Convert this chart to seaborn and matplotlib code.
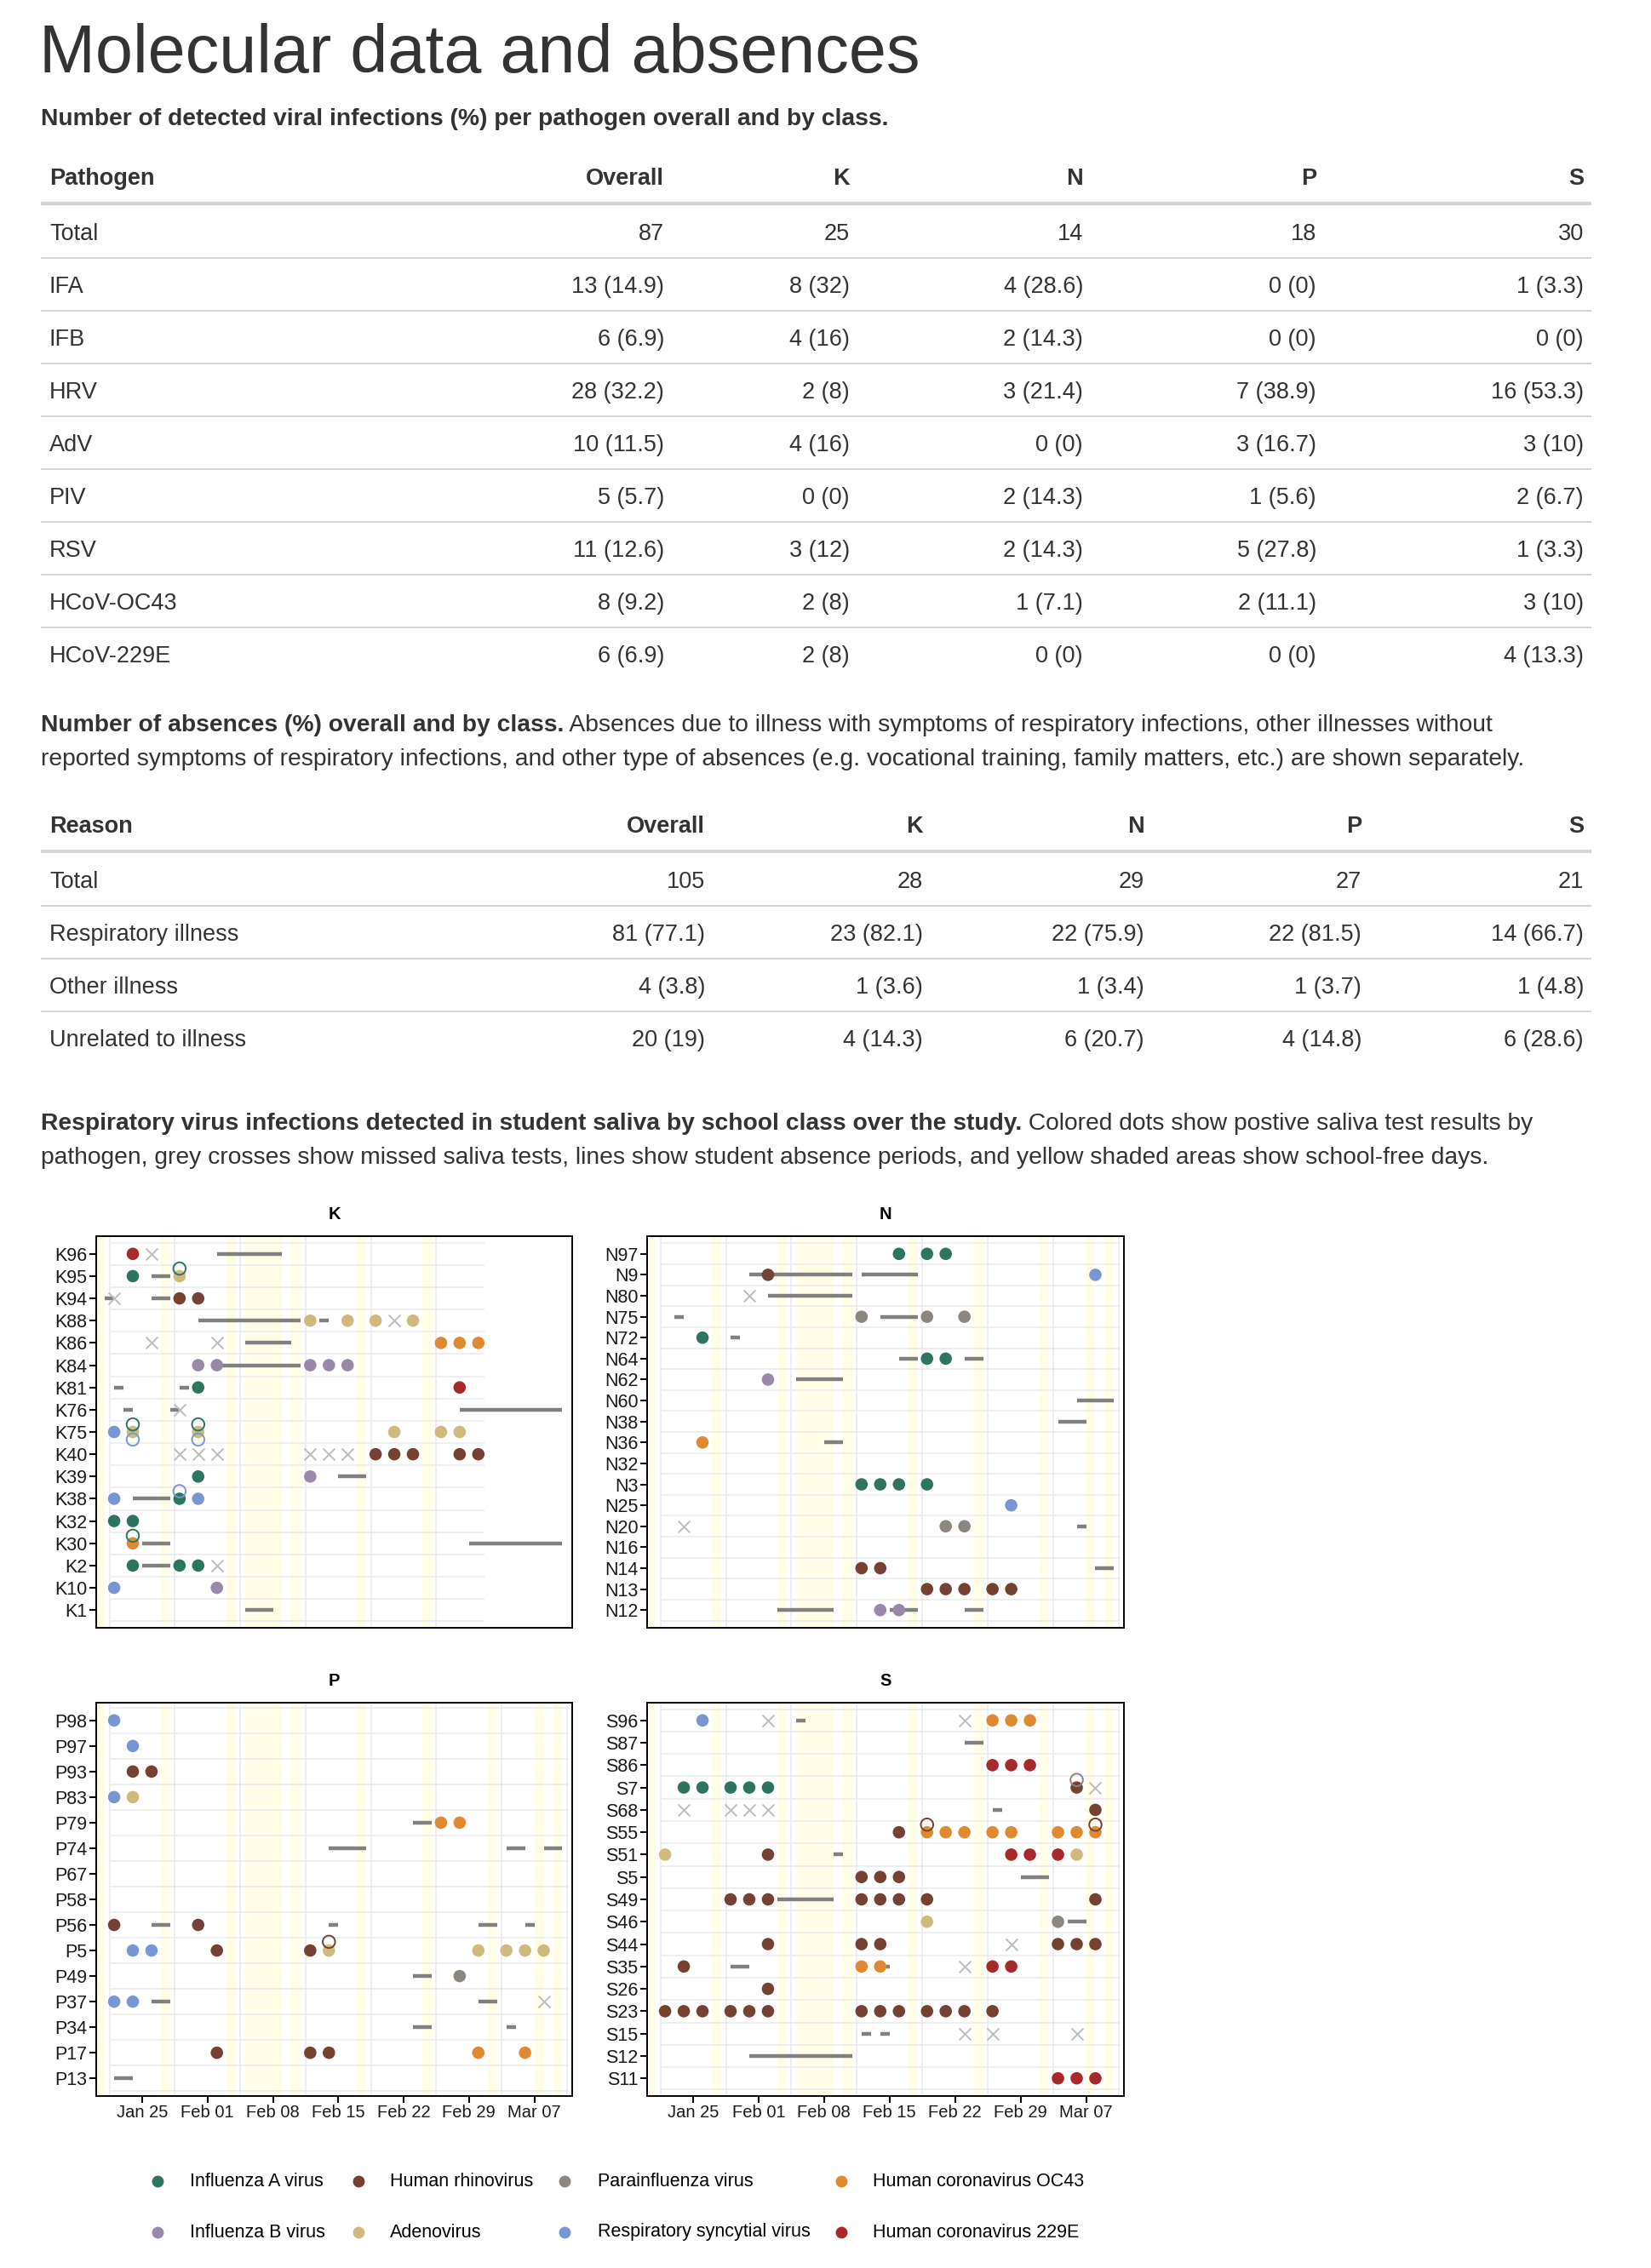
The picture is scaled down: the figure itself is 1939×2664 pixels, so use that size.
import numpy as np
import pandas as pd
import matplotlib
matplotlib.use("Agg")
import matplotlib.pyplot as plt
import matplotlib.dates as mdates
import seaborn as sns

# ---------------- tables ----------------
pathogen_rows = ["Total", "IFA", "IFB", "HRV", "AdV", "PIV", "RSV", "HCoV-OC43", "HCoV-229E"]
path_overall = ["87", "13 (14.9)", "6 (6.9)", "28 (32.2)", "10 (11.5)", "5 (5.7)", "11 (12.6)", "8 (9.2)", "6 (6.9)"]
path_K = ["25", "8 (32)", "4 (16)", "2 (8)", "4 (16)", "0 (0)", "3 (12)", "2 (8)", "2 (8)"]
path_N = ["14", "4 (28.6)", "2 (14.3)", "3 (21.4)", "0 (0)", "2 (14.3)", "2 (14.3)", "1 (7.1)", "0 (0)"]
path_P = ["18", "0 (0)", "0 (0)", "7 (38.9)", "3 (16.7)", "1 (5.6)", "5 (27.8)", "2 (11.1)", "0 (0)"]
path_S = ["30", "1 (3.3)", "0 (0)", "16 (53.3)", "3 (10)", "2 (6.7)", "1 (3.3)", "3 (10)", "4 (13.3)"]

reason_rows = ["Total", "Respiratory illness", "Other illness", "Unrelated to illness"]
abs_overall = ["105", "81 (77.1)", "4 (3.8)", "20 (19)"]
abs_K = ["28", "23 (82.1)", "1 (3.6)", "4 (14.3)"]
abs_N = ["29", "22 (75.9)", "1 (3.4)", "6 (20.7)"]
abs_P = ["27", "22 (81.5)", "1 (3.7)", "4 (14.8)"]
abs_S = ["21", "14 (66.7)", "1 (4.8)", "6 (28.6)"]

# ---------------- timeline data (2024) ----------------
K_rows = ["K96", "K95", "K94", "K88", "K86", "K84", "K81", "K76", "K75", "K40", "K39", "K38", "K32", "K30", "K2", "K10", "K1"]
N_rows = ["N97", "N9", "N80", "N75", "N72", "N64", "N62", "N60", "N38", "N36", "N32", "N3", "N25", "N20", "N16", "N14", "N13", "N12"]
P_rows = ["P98", "P97", "P93", "P83", "P79", "P74", "P67", "P58", "P56", "P5", "P49", "P37", "P34", "P17", "P13"]
S_rows = ["S96", "S87", "S86", "S7", "S68", "S55", "S51", "S5", "S49", "S46", "S44", "S35", "S26", "S23", "S15", "S12", "S11"]

positives = [
    ("K96", "01-24", "229E"), ("K95", "01-24", "IFA"), ("K95", "01-29", "AdV"),
    ("K94", "01-29", "HRV"), ("K94", "01-31", "HRV"),
    ("K88", "02-12", "AdV"), ("K88", "02-16", "AdV"), ("K88", "02-19", "AdV"), ("K88", "02-23", "AdV"),
    ("K86", "02-26", "OC43"), ("K86", "02-28", "OC43"), ("K86", "03-01", "OC43"),
    ("K84", "01-31", "IFB"), ("K84", "02-02", "IFB"), ("K84", "02-12", "IFB"), ("K84", "02-14", "IFB"), ("K84", "02-16", "IFB"),
    ("K81", "01-31", "IFA"), ("K81", "02-28", "229E"),
    ("K75", "01-22", "RSV"), ("K75", "01-24", "AdV"), ("K75", "01-31", "AdV"), ("K75", "02-21", "AdV"),
    ("K75", "02-26", "AdV"), ("K75", "02-28", "AdV"),
    ("K40", "02-19", "HRV"), ("K40", "02-21", "HRV"), ("K40", "02-23", "HRV"), ("K40", "02-28", "HRV"), ("K40", "03-01", "HRV"),
    ("K39", "01-31", "IFA"), ("K39", "02-12", "IFB"),
    ("K38", "01-22", "RSV"), ("K38", "01-29", "IFA"), ("K38", "01-31", "RSV"),
    ("K32", "01-22", "IFA"), ("K32", "01-24", "IFA"), ("K30", "01-24", "OC43"),
    ("K2", "01-24", "IFA"), ("K2", "01-29", "IFA"), ("K2", "01-31", "IFA"),
    ("K10", "01-22", "RSV"), ("K10", "02-02", "IFB"),
    ("N97", "02-16", "IFA"), ("N97", "02-19", "IFA"), ("N97", "02-21", "IFA"),
    ("N9", "02-02", "HRV"), ("N9", "03-08", "RSV"),
    ("N75", "02-12", "PIV"), ("N75", "02-19", "PIV"), ("N75", "02-23", "PIV"),
    ("N72", "01-26", "IFA"), ("N64", "02-19", "IFA"), ("N64", "02-21", "IFA"),
    ("N62", "02-02", "IFB"), ("N36", "01-26", "OC43"),
    ("N3", "02-12", "IFA"), ("N3", "02-14", "IFA"), ("N3", "02-16", "IFA"), ("N3", "02-19", "IFA"),
    ("N25", "02-28", "RSV"), ("N20", "02-21", "PIV"), ("N20", "02-23", "PIV"),
    ("N14", "02-12", "HRV"), ("N14", "02-14", "HRV"),
    ("N13", "02-19", "HRV"), ("N13", "02-21", "HRV"), ("N13", "02-23", "HRV"), ("N13", "02-26", "HRV"), ("N13", "02-28", "HRV"),
    ("N12", "02-14", "IFB"), ("N12", "02-16", "IFB"),
    ("P98", "01-22", "RSV"), ("P97", "01-24", "RSV"), ("P93", "01-24", "HRV"), ("P93", "01-26", "HRV"),
    ("P83", "01-22", "RSV"), ("P83", "01-24", "AdV"), ("P79", "02-26", "OC43"), ("P79", "02-28", "OC43"),
    ("P56", "01-22", "HRV"), ("P56", "01-31", "HRV"),
    ("P5", "01-24", "RSV"), ("P5", "01-26", "RSV"), ("P5", "02-02", "HRV"), ("P5", "02-12", "HRV"), ("P5", "02-14", "AdV"),
    ("P5", "03-01", "AdV"), ("P5", "03-04", "AdV"), ("P5", "03-06", "AdV"), ("P5", "03-08", "AdV"),
    ("P49", "02-28", "PIV"), ("P37", "01-22", "RSV"), ("P37", "01-24", "RSV"),
    ("P17", "02-02", "HRV"), ("P17", "02-12", "HRV"), ("P17", "02-14", "HRV"), ("P17", "03-01", "OC43"), ("P17", "03-06", "OC43"),
    ("S96", "01-26", "RSV"), ("S96", "02-26", "OC43"), ("S96", "02-28", "OC43"), ("S96", "03-01", "OC43"),
    ("S86", "02-26", "229E"), ("S86", "02-28", "229E"), ("S86", "03-01", "229E"),
    ("S7", "01-24", "IFA"), ("S7", "01-26", "IFA"), ("S7", "01-29", "IFA"), ("S7", "01-31", "IFA"), ("S7", "02-02", "IFA"),
    ("S7", "03-06", "HRV"), ("S68", "03-08", "HRV"),
    ("S55", "02-16", "HRV"), ("S55", "02-19", "OC43"), ("S55", "02-21", "OC43"), ("S55", "02-23", "OC43"), ("S55", "02-26", "OC43"),
    ("S55", "02-28", "OC43"), ("S55", "03-04", "OC43"), ("S55", "03-06", "OC43"), ("S55", "03-08", "OC43"),
    ("S51", "01-22", "AdV"), ("S51", "02-02", "HRV"), ("S51", "02-28", "229E"), ("S51", "03-01", "229E"),
    ("S51", "03-04", "229E"), ("S51", "03-06", "AdV"),
    ("S5", "02-12", "HRV"), ("S5", "02-14", "HRV"), ("S5", "02-16", "HRV"),
    ("S49", "01-29", "HRV"), ("S49", "01-31", "HRV"), ("S49", "02-02", "HRV"), ("S49", "02-12", "HRV"),
    ("S49", "02-14", "HRV"), ("S49", "02-16", "HRV"), ("S49", "02-19", "HRV"), ("S49", "03-08", "HRV"),
    ("S46", "02-19", "AdV"), ("S46", "03-04", "PIV"),
    ("S44", "02-02", "HRV"), ("S44", "02-12", "HRV"), ("S44", "02-14", "HRV"), ("S44", "03-04", "HRV"),
    ("S44", "03-06", "HRV"), ("S44", "03-08", "HRV"),
    ("S35", "01-24", "HRV"), ("S35", "02-12", "OC43"), ("S35", "02-14", "OC43"), ("S35", "02-26", "229E"), ("S35", "02-28", "229E"),
    ("S26", "02-02", "HRV"),
    ("S23", "01-22", "HRV"), ("S23", "01-24", "HRV"), ("S23", "01-26", "HRV"), ("S23", "01-29", "HRV"), ("S23", "01-31", "HRV"),
    ("S23", "02-02", "HRV"), ("S23", "02-12", "HRV"), ("S23", "02-14", "HRV"), ("S23", "02-16", "HRV"), ("S23", "02-19", "HRV"),
    ("S23", "02-21", "HRV"), ("S23", "02-23", "HRV"), ("S23", "02-26", "HRV"),
    ("S11", "03-04", "229E"), ("S11", "03-06", "229E"), ("S11", "03-08", "229E"),
]

# second pathogen of a co-infection: ring above (-1) or below (+1) the dot
coinfections = [
    ("K95", "01-29", "IFA", -1), ("K75", "01-24", "IFA", -1), ("K75", "01-24", "RSV", 1),
    ("K75", "01-31", "IFA", -1), ("K75", "01-31", "RSV", 1), ("K38", "01-29", "RSV", -1),
    ("K30", "01-24", "IFA", -1), ("P5", "02-14", "HRV", -1),
    ("S7", "03-06", "PIV", -1), ("S55", "02-19", "HRV", -1), ("S55", "03-08", "HRV", -1),
]

missed = [
    ("K96", "01-26"), ("K94", "01-22"), ("K88", "02-21"), ("K86", "01-26"), ("K86", "02-02"), ("K76", "01-29"),
    ("K40", "01-29"), ("K40", "01-31"), ("K40", "02-02"), ("K40", "02-12"), ("K40", "02-14"), ("K40", "02-16"),
    ("K2", "02-02"), ("N80", "01-31"), ("N20", "01-24"), ("P37", "03-08"),
    ("S96", "02-02"), ("S96", "02-23"), ("S7", "03-08"), ("S68", "01-24"), ("S68", "01-29"), ("S68", "01-31"),
    ("S68", "02-02"), ("S44", "02-28"), ("S35", "02-23"), ("S15", "02-23"), ("S15", "02-26"), ("S15", "03-06"),
]

absences = [
    ("K96", "02-02", "02-09"), ("K95", "01-26", "01-28"), ("K94", "01-21", "01-22"), ("K94", "01-26", "01-28"),
    ("K88", "01-31", "02-11"), ("K88", "02-13", "02-14"), ("K86", "02-05", "02-10"), ("K84", "02-02", "02-11"),
    ("K81", "01-22", "01-23"), ("K81", "01-29", "01-30"), ("K76", "01-23", "01-24"), ("K76", "01-28", "01-29"),
    ("K76", "02-28", "03-10"), ("K39", "02-15", "02-18"), ("K38", "01-24", "01-28"), ("K30", "01-25", "01-28"),
    ("K30", "02-29", "03-10"), ("K2", "01-25", "01-28"), ("K1", "02-05", "02-08"),
    ("N9", "01-31", "02-11"), ("N9", "02-12", "02-18"), ("N80", "02-02", "02-11"), ("N75", "01-23", "01-24"),
    ("N75", "02-14", "02-18"), ("N72", "01-29", "01-30"), ("N64", "02-16", "02-18"), ("N64", "02-23", "02-25"),
    ("N62", "02-05", "02-10"), ("N60", "03-06", "03-10"), ("N38", "03-04", "03-07"), ("N36", "02-08", "02-10"),
    ("N20", "03-06", "03-07"), ("N14", "03-08", "03-10"), ("N12", "02-03", "02-09"), ("N12", "02-15", "02-18"),
    ("N12", "02-23", "02-25"),
    ("P79", "02-23", "02-25"), ("P74", "02-14", "02-18"), ("P74", "03-04", "03-06"), ("P74", "03-08", "03-10"),
    ("P56", "01-26", "01-28"), ("P56", "02-14", "02-15"), ("P56", "03-01", "03-03"), ("P56", "03-06", "03-07"),
    ("P49", "02-23", "02-25"), ("P37", "01-26", "01-28"), ("P37", "03-01", "03-03"), ("P34", "02-23", "02-25"),
    ("P34", "03-04", "03-05"), ("P13", "01-22", "01-24"),
    ("S96", "02-05", "02-06"), ("S87", "02-23", "02-25"), ("S68", "02-26", "02-27"), ("S51", "02-09", "02-10"),
    ("S5", "02-29", "03-03"), ("S49", "02-03", "02-09"), ("S46", "03-05", "03-07"), ("S35", "01-29", "01-31"),
    ("S35", "02-14", "02-15"), ("S15", "02-12", "02-13"), ("S15", "02-14", "02-15"), ("S12", "01-31", "02-11"),
]

free_days = [("01-20", "01-21"), ("01-27", "01-28"), ("02-03", "02-04"), ("02-05", "02-09"), ("02-10", "02-11"),
             ("02-17", "02-18"), ("02-24", "02-25"), ("03-02", "03-03"), ("03-07", "03-08"), ("03-09", "03-10")]
class_end = {"K": "03-01", "N": "03-10", "P": "03-10", "S": "03-10"}

pathogen_names = {"IFA": "Influenza A virus", "IFB": "Influenza B virus", "HRV": "Human rhinovirus",
                  "AdV": "Adenovirus", "PIV": "Parainfluenza virus", "RSV": "Respiratory syncytial virus",
                  "OC43": "Human coronavirus OC43", "229E": "Human coronavirus 229E"}
palette = {"IFA": "#2E7561", "IFB": "#9A88A8", "HRV": "#744132", "AdV": "#CDBA7C",
           "PIV": "#8C8680", "RSV": "#7896D3", "OC43": "#DF8A33", "229E": "#A8292B"}

# ---------------- style ----------------
sns.set_theme(style="white")
plt.rcParams["font.family"] = ["Liberation Sans", "DejaVu Sans"]
DARK = "#333333"
BAND = "#FFFDE6"
GRID = "#EBEBEB"
SEG = "#808080"
CROSS = "#BDBDBD"
PARA = 20.35


def d(s):
    return mdates.date2num(pd.Timestamp("2024-" + s))


W, H = 1940, 2664
fig = plt.figure(figsize=(W / 100, H / 100), dpi=100, facecolor="white")
ov = fig.add_axes([0, 0, 1, 1])
ov.set_xlim(0, W)
ov.set_ylim(H, 0)
ov.axis("off")
renderer = fig.canvas.get_renderer()


def rich(x, y, bold, rest, size):
    t = ov.text(x, y, bold, fontsize=size, fontweight="bold", color=DARK, va="baseline")
    bb = t.get_window_extent(renderer=renderer)
    ov.text(bb.x1, y, " " + rest, fontsize=size, color=DARK, va="baseline")


# title and first table
ov.text(46, 85, "Molecular data and absences", fontsize=57, color=DARK, va="baseline")
ov.text(48, 147, "Number of detected viral infections (%) per pathogen overall and by class.",
        fontsize=PARA, fontweight="bold", color=DARK, va="baseline")


def table(top, header, rows, cols, col_x, size=19.5):
    ov.text(58, top + 10, header[0], fontsize=size, fontweight="bold", color=DARK, va="baseline")
    for h, cx in zip(header[1:], col_x):
        ov.text(cx, top + 10, h, fontsize=size, fontweight="bold", color=DARK, va="baseline", ha="right")
    ov.plot([48, 1869], [top + 32, top + 32], color="#D3D3D3", lw=3, solid_capstyle="butt")
    for i, name in enumerate(rows):
        yc = top + 65 + 62 * i
        ov.text(58, yc + 10, name, fontsize=size, color=DARK, va="baseline")
        for col, cx in zip(cols, col_x):
            ov.text(cx, yc + 10, col[i], fontsize=size, color=DARK, va="baseline", ha="right")
        if i < len(rows) - 1:
            ov.plot([48, 1869], [yc + 31, yc + 31], color="#D3D3D3", lw=1.4, solid_capstyle="butt")


table(207, ["Pathogen", "Overall", "K", "N", "P", "S"], pathogen_rows,
      [path_overall, path_K, path_N, path_P, path_S], [780, 998, 1272, 1546, 1860])

rich(48, 859, "Number of absences (%) overall and by class.",
     "Absences due to illness with symptoms of respiratory infections, other illnesses without", PARA)
ov.text(48, 899, "reported symptoms of respiratory infections, and other type of absences (e.g. vocational "
        "training, family matters, etc.) are shown separately.", fontsize=PARA, color=DARK, va="baseline")

table(968, ["Reason", "Overall", "K", "N", "P", "S"], reason_rows,
      [abs_overall, abs_K, abs_N, abs_P, abs_S], [828, 1084, 1344, 1599, 1860])

rich(48, 1327, "Respiratory virus infections detected in student saliva by school class over the study.",
     "Colored dots show postive saliva test results by", PARA)
ov.text(48, 1367, "pathogen, grey crosses show missed saliva tests, lines show student absence periods, "
        "and yellow shaded areas show school-free days.", fontsize=PARA, color=DARK, va="baseline")

# ---------------- panels ----------------
pos_df = pd.DataFrame(positives, columns=["student", "date", "pathogen"])
ring_df = pd.DataFrame(coinfections, columns=["student", "date", "pathogen", "side"])
miss_df = pd.DataFrame(missed, columns=["student", "date"])
abs_df = pd.DataFrame(absences, columns=["student", "start", "end"])
for df_ in (pos_df, ring_df, miss_df):
    df_["x"] = df_["date"].map(d)

panels = [
    ("K", K_rows, (113, 1452, 672, 1912), False),
    ("N", N_rows, (760, 1452, 1320, 1912), False),
    ("P", P_rows, (113, 2000, 672, 2462), True),
    ("S", S_rows, (760, 2000, 1320, 2462), True),
]
x0 = d("01-20") + 0.08
x1 = d("03-11") + 0.05
grid_start = d("01-21") + 0.5
MARGIN = 20.8

for cls, rows, (l, t, r, b), bottom in panels:
    ax = fig.add_axes([l / W, 1 - b / H, (r - l) / W, (b - t) / H])
    n = len(rows)
    ypos = {s: i for i, s in enumerate(rows)}
    pitch = (b - t - 2 * MARGIN) / (n - 1)
    m = MARGIN / pitch
    end = d(class_end[cls])
    grid_end = end + 0.65

    for a, z in free_days:
        if d(a) <= end:
            ax.axvspan(d(a), d(z), color=BAND, lw=0, zorder=0)
    ax.hlines(np.arange(-0.5, n), grid_start, grid_end, color=GRID, lw=1.2, zorder=1)
    for k in range(8):
        gx = grid_start + 7 * k
        if gx <= grid_end:
            ax.axvline(gx, color=GRID, lw=1.2, zorder=1)

    sub_abs = abs_df[abs_df["student"].isin(rows)]
    ax.hlines(sub_abs["student"].map(ypos), sub_abs["start"].map(d), sub_abs["end"].map(d),
              color=SEG, lw=3.2, zorder=2)

    sub_miss = miss_df[miss_df["student"].isin(rows)].assign(y=lambda q: q["student"].map(ypos))
    if len(sub_miss):
        sns.scatterplot(data=sub_miss, x="x", y="y", marker="x", color=CROSS, s=100,
                        linewidth=1.4, ax=ax, zorder=3, legend=False)

    sub_pos = pos_df[pos_df["student"].isin(rows)].assign(y=lambda q: q["student"].map(ypos))
    sns.scatterplot(data=sub_pos, x="x", y="y", hue="pathogen", palette=palette, s=110,
                    linewidth=0, ax=ax, zorder=4, legend=False)

    sub_ring = ring_df[ring_df["student"].isin(rows)]
    if len(sub_ring):
        ax.scatter(sub_ring["x"], sub_ring["student"].map(ypos) + 0.34 * sub_ring["side"], s=110,
                   facecolors="none", edgecolors=[palette[p] for p in sub_ring["pathogen"]],
                   linewidths=1.4, zorder=5)

    ax.set_xlim(x0, x1)
    ax.set_ylim(n - 1 + m, -m)
    ax.set_yticks(range(n))
    ax.set_yticklabels(rows)
    ax.set_xlabel("")
    ax.set_ylabel("")
    if bottom:
        ax.set_xticks([d("01-25") + 7 * k for k in range(7)])
        ax.xaxis.set_major_formatter(mdates.DateFormatter("%b %d"))
    else:
        ax.set_xticks([])
    ax.tick_params(axis="both", direction="out", length=5.5, width=1.5, color="black",
                   labelsize=14.5, labelcolor="#1A1A1A", pad=2, left=True, bottom=bottom)
    ax.tick_params(axis="y", labelsize=15.5)
    ax.set_facecolor("white")
    for sp in ax.spines.values():
        sp.set_visible(True)
        sp.set_color("black")
        sp.set_linewidth(1.4)
    ov.text((l + r) / 2, t - 25, cls, fontsize=14.5, fontweight="bold", color="black",
            ha="center", va="center")

# ---------------- legend ----------------
legend_cols = [("IFA", "IFB"), ("HRV", "AdV"), ("PIV", "RSV"), ("OC43", "229E")]
marker_x = [185, 421, 663, 988]
text_x = [223, 458, 702, 1025]
row_y = [2562, 2622]
for (top_code, bot_code), mx, tx in zip(legend_cols, marker_x, text_x):
    for code, yy in zip((top_code, bot_code), row_y):
        ov.scatter([mx], [yy], s=100, color=palette[code], lw=0)
        ov.text(tx, yy, pathogen_names[code], fontsize=15.5, color="black", va="center")

fig.savefig("out.png", dpi=100, facecolor="white")
